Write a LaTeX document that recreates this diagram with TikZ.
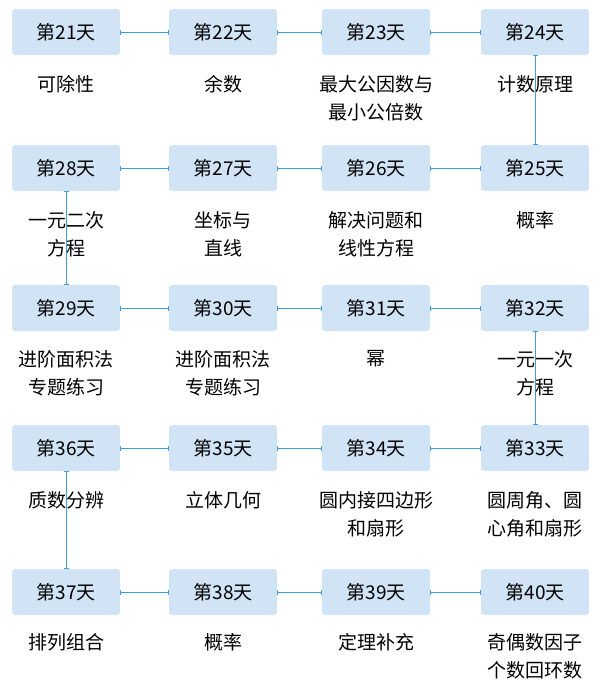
\documentclass[tikz,border=0pt]{standalone}
\usepackage{fontspec}
\newfontfamily\cjk{Noto Sans CJK SC}
\usetikzlibrary{arrows.meta}
\definecolor{boxblue}{HTML}{D0E4F6}
\definecolor{lineblue}{HTML}{3D9DE3}

\begin{document}
\begin{tikzpicture}[x=1pt,y=-1pt,
    day/.style={fill=boxblue,rounded corners=3pt,minimum width=108pt,minimum height=46pt,font=\cjk\fontsize{19}{22}\selectfont},
    topic/.style={anchor=north,align=center,font=\cjk\fontsize{19}{28}\selectfont},
    link/.style={lineblue,line width=0.8pt,{Bar[width=5pt]}-{Bar[width=5pt]}}]
\useasboundingbox (0,0) rectangle (610,688);
% boxes
\node[day] (d21) at (66,32) {第21天};
\node[day] (d22) at (223,32) {第22天};
\node[day] (d23) at (376,32) {第23天};
\node[day] (d24) at (535,32) {第24天};
\node[day] (d28) at (66,168) {第28天};
\node[day] (d27) at (223,168) {第27天};
\node[day] (d26) at (376,168) {第26天};
\node[day] (d25) at (535,168) {第25天};
\node[day] (d29) at (66,308) {第29天};
\node[day] (d30) at (223,308) {第30天};
\node[day] (d31) at (376,308) {第31天};
\node[day] (d32) at (535,308) {第32天};
\node[day] (d36) at (66,448) {第36天};
\node[day] (d35) at (223,448) {第35天};
\node[day] (d34) at (376,448) {第34天};
\node[day] (d33) at (535,448) {第33天};
\node[day] (d37) at (66,592) {第37天};
\node[day] (d38) at (223,592) {第38天};
\node[day] (d39) at (376,592) {第39天};
\node[day] (d40) at (535,592) {第40天};
% connectors
\draw[link] (d21) -- (d22);
\draw[link] (d22) -- (d23);
\draw[link] (d23) -- (d24);
\draw[link] (d24) -- (d25);
\draw[link] (d25) -- (d26);
\draw[link] (d26) -- (d27);
\draw[link] (d27) -- (d28);
\draw[link] (d28) -- (d29);
\draw[link] (d29) -- (d30);
\draw[link] (d30) -- (d31);
\draw[link] (d31) -- (d32);
\draw[link] (d32) -- (d33);
\draw[link] (d33) -- (d34);
\draw[link] (d34) -- (d35);
\draw[link] (d35) -- (d36);
\draw[link] (d36) -- (d37);
\draw[link] (d37) -- (d38);
\draw[link] (d38) -- (d39);
\draw[link] (d39) -- (d40);
% topics
\node[topic] (t21) at (66,72) {可除性};
\node[topic] (t22) at (223,72) {余数};
\node[topic] (t23) at (376,72) {最大公因数与\\最小公倍数};
\node[topic] (t24) at (535,72) {计数原理};
\node[topic] (t28) at (66,208) {一元二次\\方程};
\node[topic] (t27) at (223,208) {坐标与\\直线};
\node[topic] (t26) at (376,208) {解决问题和\\线性方程};
\node[topic] (t25) at (535,208) {概率};
\node[topic] (t29) at (66,347) {进阶面积法\\专题练习};
\node[topic] (t30) at (223,347) {进阶面积法\\专题练习};
\node[topic] (t31) at (376,347) {幂};
\node[topic] (t32) at (535,347) {一元一次\\方程};
\node[topic] (t36) at (66,488) {质数分辨};
\node[topic] (t35) at (223,488) {立体几何};
\node[topic] (t34) at (376,488) {圆内接四边形\\和扇形};
\node[topic] (t33) at (535,488) {圆周角、圆\\心角和扇形};
\node[topic] (t37) at (66,630) {排列组合};
\node[topic] (t38) at (223,630) {概率};
\node[topic] (t39) at (376,630) {定理补充};
\node[topic] (t40) at (535,630) {奇偶数因子\\个数回环数};
\end{tikzpicture}
\end{document}
